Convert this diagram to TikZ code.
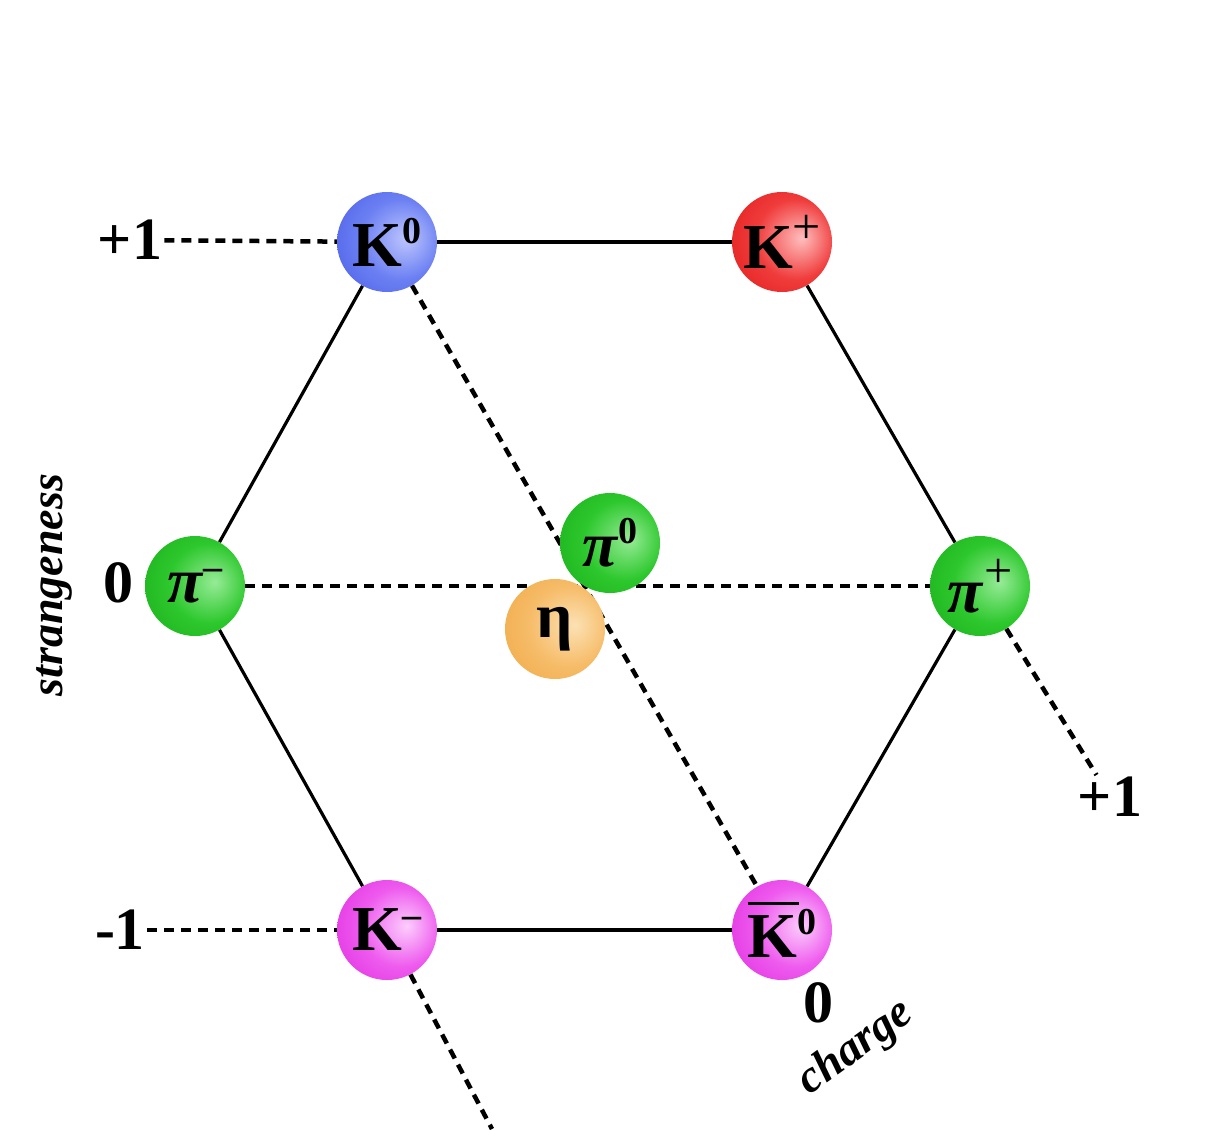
\documentclass[tikz,border=0pt]{standalone}
\usepackage{fontspec}
\setmainfont{Liberation Serif}
\usetikzlibrary{backgrounds}
\definecolor{bOut}{RGB}{62,82,228}
\definecolor{bMid}{RGB}{108,128,243}
\definecolor{bIn}{RGB}{190,198,253}
\definecolor{rOut}{RGB}{220,15,15}
\definecolor{rMid}{RGB}{240,60,60}
\definecolor{rIn}{RGB}{255,190,190}
\definecolor{gOut}{RGB}{20,165,20}
\definecolor{gMid}{RGB}{45,200,45}
\definecolor{gIn}{RGB}{150,235,150}
\definecolor{mOut}{RGB}{220,30,220}
\definecolor{mMid}{RGB}{238,90,238}
\definecolor{mIn}{RGB}{252,205,252}
\definecolor{oOut}{RGB}{238,162,55}
\definecolor{oMid}{RGB}{246,188,105}
\definecolor{oIn}{RGB}{252,225,180}
\pgfdeclareradialshading{ballblue}{\pgfpoint{10bp}{2bp}}{color(0bp)=(bIn); color(20bp)=(bMid); color(46bp)=(bOut); color(65bp)=(bOut)}
\pgfdeclareradialshading{ballred}{\pgfpoint{10bp}{2bp}}{color(0bp)=(rIn); color(20bp)=(rMid); color(46bp)=(rOut); color(65bp)=(rOut)}
\pgfdeclareradialshading{ballgreen}{\pgfpoint{10bp}{2bp}}{color(0bp)=(gIn); color(20bp)=(gMid); color(46bp)=(gOut); color(65bp)=(gOut)}
\pgfdeclareradialshading{ballmag}{\pgfpoint{10bp}{2bp}}{color(0bp)=(mIn); color(20bp)=(mMid); color(46bp)=(mOut); color(65bp)=(mOut)}
\pgfdeclareradialshading{ballorange}{\pgfpoint{10bp}{2bp}}{color(0bp)=(oIn); color(20bp)=(oMid); color(46bp)=(oOut); color(65bp)=(oOut)}
\newcommand\mysup[1]{\raisebox{0.36em}{\fontsize{38}{40}\selectfont #1}}
\newcommand\myplus{\raisebox{0.40em}{\fontsize{50}{52}\selectfont\mdseries +}}
\newcommand\myminus{\raisebox{0.36em}{\fontsize{38}{40}\selectfont –}}
\newcommand\mykbar{\rlap{\raisebox{0.82em}{\rule{0.80em}{3pt}}}K}
\begin{document}
\begin{tikzpicture}[x=1pt,y=-1pt]
\tikzset{
  ball/.style={circle, minimum size=100pt, inner sep=0pt, font=\fontsize{64}{66}\selectfont\bfseries},
  hexedge/.style={line width=3.2pt},
  dline/.style={line width=4.5pt, dash pattern=on 10pt off 7pt},
  lab/.style={font=\fontsize{60}{60}\selectfont\bfseries, inner sep=2pt},
  axlab/.style={font=\fontsize{46}{50}\selectfont\bfseries\itshape, inner sep=0pt}
}
\useasboundingbox (0,0) rectangle (1217,1129);
% particles
\node[ball, shading=ballblue] (K0) at (387,242) {K\mysup{0}};
\node[ball, shading=ballred] (Kp) at (782,242) {K\myplus};
\node[ball, shading=ballgreen] (pim) at (195,586) {\textit{π}\myminus};
\node[ball, shading=ballgreen] (pip) at (980,586) {\textit{π}\myplus};
\node[ball, shading=ballmag] (Km) at (387,930) {K\myminus};
\node[ball, shading=ballmag] (aK0) at (782,930) {\mykbar\mysup{0}};
\node[ball, shading=ballgreen] (pi0) at (610,543) {\textit{π}\mysup{0}};
\node[ball, shading=ballorange] (eta) at (555,629) {η};
% labels
\node[lab] (lp1) at (130,240) {+1};
\node[lab] (l0) at (118,583) {0};
\node[lab] (lm1) at (120,930) {-1};
\node[lab] (lq1) at (1110,797) {+1};
\node[lab] (lq0) at (818,1003) {0};
\node[axlab, rotate=90] (lstr) at (54,585) {strangeness};
\node[axlab, rotate=36] (lch) at (856,1048) {charge};
\coordinate (kmend) at (492,1129);
\begin{scope}[on background layer]
  \draw[hexedge] (K0) -- (Kp);
  \draw[hexedge] (Kp) -- (pip);
  \draw[hexedge] (pip) -- (aK0);
  \draw[hexedge] (aK0) -- (Km);
  \draw[hexedge] (Km) -- (pim);
  \draw[hexedge] (pim) -- (K0);
  \draw[dline] (lp1) -- (K0);
  \draw[dline] (lm1) -- (Km);
  \draw[dline] (pim) -- (pip);
  \draw[dline] (K0) -- (aK0);
  \draw[dline] (Km) -- (kmend);
  \draw[dline] (pip) -- (lq1);
\end{scope}
\end{tikzpicture}
\end{document}
